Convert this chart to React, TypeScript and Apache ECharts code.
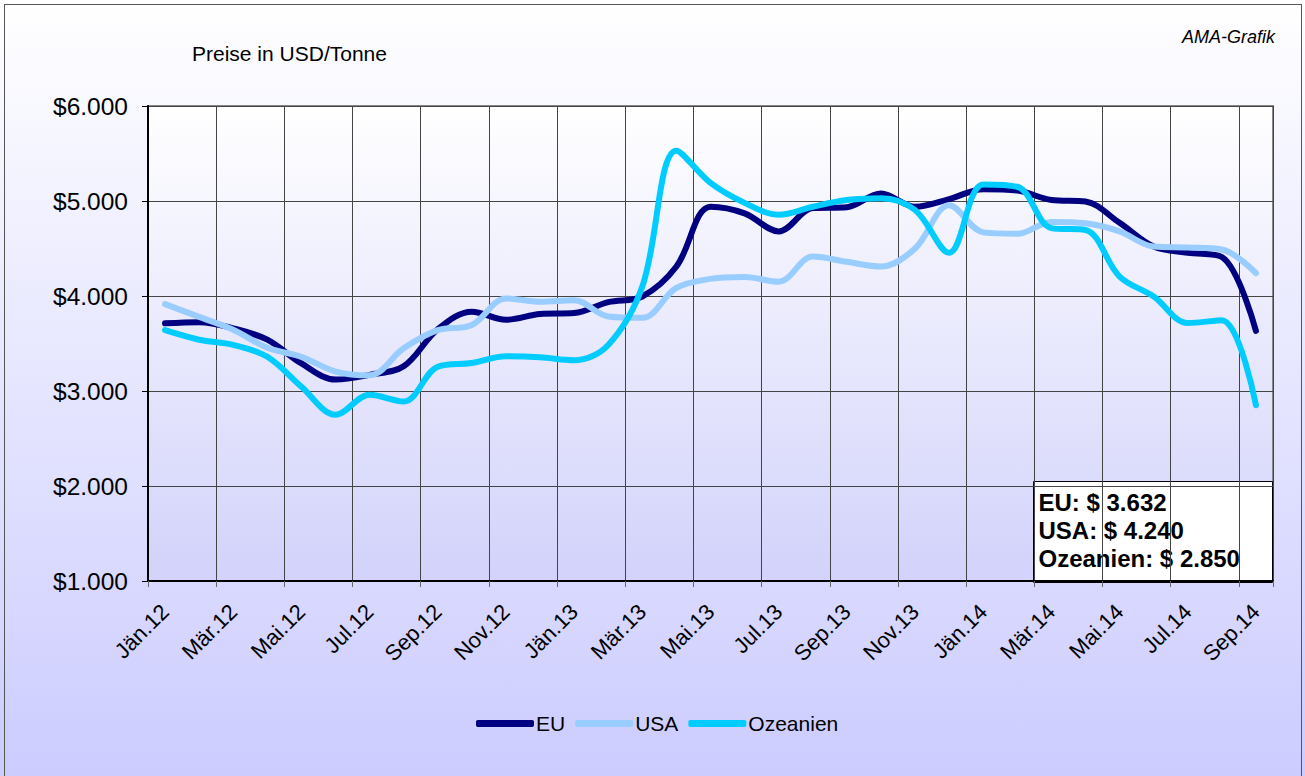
import React, { useEffect, useRef } from "react";
import * as echarts from "echarts";

const categories = [
  "Jän.12", "Feb.12", "Mär.12", "Apr.12", "Mai.12", "Jun.12", "Jul.12", "Aug.12", "Sep.12", "Okt.12", "Nov.12", "Dez.12",
  "Jän.13", "Feb.13", "Mär.13", "Apr.13", "Mai.13", "Jun.13", "Jul.13", "Aug.13", "Sep.13", "Okt.13", "Nov.13", "Dez.13",
  "Jän.14", "Feb.14", "Mär.14", "Apr.14", "Mai.14", "Jun.14", "Jul.14", "Aug.14", "Sep.14",
];

const euValues = [
  3712, 3725, 3660, 3540, 3290, 3120, 3170, 3260, 3650, 3835, 3750, 3810,
  3820, 3935, 3995, 4310, 4940, 4870, 4680, 4925, 4935, 5080, 4940, 5020,
  5125, 5110, 5010, 4995, 4770, 4520, 4455, 4410, 3632,
];

const usaValues = [
  3915, 3780, 3645, 3455, 3360, 3205, 3165, 3450, 3640, 3695, 3975, 3940,
  3955, 3785, 3770, 4085, 4180, 4200, 4150, 4415, 4360, 4310, 4500, 4955,
  4670, 4655, 4780, 4765, 4680, 4520, 4510, 4490, 4240,
];

const ozeanienValues = [
  3640, 3540, 3485, 3360, 3045, 2750, 2960, 2890, 3255, 3295, 3365, 3355,
  3325, 3485, 4100, 5530, 5190, 4980, 4855, 4940, 5010, 5030, 4905, 4455,
  5175, 5150, 4715, 4695, 4205, 3995, 3715, 3745, 2850,
];

const seriesNames = ["EU", "USA", "Ozeanien"];
const seriesColors = ["#000080", "#99ccff", "#00ccff"];
const annotationLines = ["EU: $ 3.632", "USA: $ 4.240", "Ozeanien: $ 2.850"];

const FONT = "'Liberation Sans', Arial, Helvetica, sans-serif";

function fmtDollar(v: number): string {
  const s = Math.round(v).toString();
  return "$" + s.replace(/\B(?=(\d{3})+(?!\d))/g, ".");
}

export default function App() {
  const ref = useRef<HTMLDivElement>(null);

  useEffect(() => {
    if (!ref.current) return;
    const chart = echarts.init(ref.current, null, { renderer: "svg" });
    const data = [euValues, usaValues, ozeanienValues];
    chart.setOption({
      animation: false,
      backgroundColor: "transparent",
      grid: {
        left: 148,
        right: 32,
        top: 106,
        bottom: 195,
        show: true,
        borderColor: "#888888",
        borderWidth: 2,
        backgroundColor: new echarts.graphic.LinearGradient(0, 0, 0, 1, [
          { offset: 0, color: "#ffffff" },
          { offset: 1, color: "#d2d2fb" },
        ]),
      },
      legend: {
        data: seriesNames,
        left: 471,
        top: 708,
        icon: "roundRect",
        itemWidth: 58,
        itemHeight: 7,
        itemGap: 10,
        textStyle: { fontFamily: FONT, fontSize: 21, color: "#000", padding: [0, 0, 0, -3] },
      },
      xAxis: {
        type: "category",
        data: categories,
        boundaryGap: true,
        axisLine: { show: true, lineStyle: { color: "#000", width: 2 } },
        axisTick: { show: true, interval: 1, length: 6, lineStyle: { color: "#666", width: 1 } },
        axisLabel: {
          interval: 1,
          rotate: 45,
          margin: 27,
          fontFamily: FONT,
          fontSize: 22,
          color: "#000",
        },
        splitLine: { show: true, interval: 1, lineStyle: { color: "#444", width: 1 } },
      },
      yAxis: {
        type: "value",
        min: 1000,
        max: 6000,
        interval: 1000,
        axisLine: { show: true, lineStyle: { color: "#000", width: 2 } },
        axisTick: { show: true, length: 6, lineStyle: { color: "#000", width: 1 } },
        axisLabel: {
          formatter: (v: number) => fmtDollar(v),
          fontFamily: FONT,
          fontSize: 24.5,
          color: "#000",
          margin: 20,
        },
        splitLine: { show: true, lineStyle: { color: "#444", width: 1 } },
      },
      series: seriesNames.map((name, i) => ({
        name,
        type: "line",
        data: data[i],
        smooth: 0.35,
        symbol: "none",
        itemStyle: { color: seriesColors[i] },
        lineStyle: { color: seriesColors[i], width: 6, cap: "round", join: "round" },
        z: 2 + i,
      })),
      graphic: [
        {
          type: "text",
          left: 192,
          top: 43,
          style: { text: "Preise in USD/Tonne", font: `21px ${FONT}`, fill: "#000" },
        },
        {
          type: "text",
          right: 30,
          top: 28,
          style: { text: "AMA-Grafik", font: `italic 18px ${FONT}`, fill: "#000" },
        },
        {
          type: "group",
          left: 1033,
          top: 481,
          z: 100,
          children: [
            {
              type: "rect",
              shape: { x: 0, y: 0, width: 239, height: 101 },
              style: { fill: "#ffffff", stroke: "#000000", lineWidth: 1 },
            },
            {
              type: "text",
              x: 5,
              y: 7,
              style: {
                text: annotationLines.join("\n"),
                font: `bold 24px ${FONT}`,
                lineHeight: 28,
                fill: "#000",
              },
            },
          ],
        },
      ],
    });
    return () => chart.dispose();
  }, []);

  return (
    <div
      style={{
        position: "fixed",
        left: 0,
        top: 0,
        width: 1305,
        height: 776,
        background: "linear-gradient(to bottom, #ffffff 0%, #ccccff 100%)",
      }}
    >
      <div
        style={{
          position: "absolute",
          left: 4,
          top: 4,
          width: 1298,
          height: 772,
          border: "1px solid #555",
          borderBottom: "none",
          boxSizing: "border-box",
        }}
      />
      <div ref={ref} style={{ position: "absolute", left: 0, top: 0, width: 1305, height: 776 }} />
    </div>
  );
}
